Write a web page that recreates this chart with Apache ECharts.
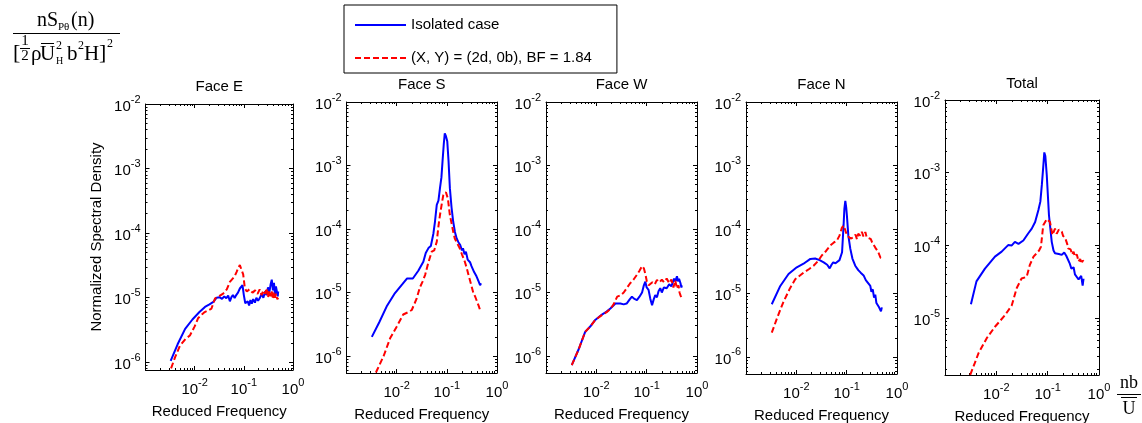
<!DOCTYPE html>
<html>
<head>
    <meta charset="utf-8" />
    <style>
        html, body { margin: 0; padding: 0; background-color: #fff; }
        #chart { width: 1142px; height: 423px; }
    </style>
    <script src="https://cdn.jsdelivr.net/npm/echarts@6.0.0/dist/echarts.min.js"></script>
</head>
<body>
    <div id="chart"></div>
    <script type="text/javascript">
        // series names (legend)
        var nameIso = 'Isolated case';
        var nameBf = '(X, Y) = (2d, 0b), BF = 1.84';
        var panelTitles = ['Face E', 'Face S', 'Face W', 'Face N', 'Total'];

        // [reduced frequency, normalized spectral density]
        var faceE_iso = [[0.00325,1.05e-6],[0.0045,1.9e-6],[0.0064,3.3e-6],[0.009,4.6e-6],[0.0125,6.0e-6],[0.0162,7.2e-6],[0.02,7.9e-6],[0.024,8.6e-6],[0.028,1.0e-5],[0.032,1.02e-5],[0.036,9.6e-6],[0.04,1.05e-5],[0.044,9.8e-6],[0.048,1.08e-5],[0.052,8.8e-6],[0.056,1.02e-5],[0.06,1.1e-5],[0.065,9.9e-6],[0.07,1.1e-5],[0.076,1.2e-5],[0.083,1.39e-5],[0.094,1.56e-5],[0.1,1.1e-5],[0.107,8.2e-6],[0.114,7.7e-6],[0.12,8.8e-6],[0.128,7.6e-6],[0.136,9.2e-6],[0.145,8.1e-6],[0.155,9.5e-6],[0.168,8.4e-6],[0.18,1.0e-5],[0.195,9.0e-6],[0.21,9.8e-6],[0.23,1.15e-5],[0.25,1.0e-5],[0.27,1.25e-5],[0.29,1.1e-5],[0.31,1.45e-5],[0.33,1.2e-5],[0.35,1.6e-5],[0.37,1.9e-5],[0.39,1.3e-5],[0.41,1.7e-5],[0.43,1.1e-5],[0.45,1.5e-5],[0.47,1.4e-5],[0.49,1.05e-5],[0.5,1.25e-5]];
        var faceE_bf = [[0.0028,6.0e-7],[0.0032,7.5e-7],[0.004,1.2e-6],[0.005,1.8e-6],[0.0065,2.3e-6],[0.008,2.6e-6],[0.01,3.6e-6],[0.0117,4.8e-6],[0.014,5.5e-6],[0.016,6.0e-6],[0.019,6.4e-6],[0.022,6.8e-6],[0.026,9.8e-6],[0.031,1.05e-5],[0.038,1.16e-5],[0.045,1.35e-5],[0.052,1.76e-5],[0.06,2.0e-5],[0.066,2.2e-5],[0.071,2.5e-5],[0.077,2.9e-5],[0.083,3.2e-5],[0.09,3.2e-5],[0.097,2.3e-5],[0.105,1.4e-5],[0.115,1.25e-5],[0.13,1.35e-5],[0.15,1.2e-5],[0.17,1.3e-5],[0.19,1.15e-5],[0.21,1.35e-5],[0.23,1.1e-5],[0.25,1.3e-5],[0.27,1.15e-5],[0.29,1.4e-5],[0.31,1.0e-5],[0.33,1.3e-5],[0.35,1.05e-5],[0.37,1.25e-5],[0.39,9.5e-6],[0.41,1.2e-5],[0.43,1.0e-5],[0.45,1.15e-5],[0.48,9.5e-6],[0.5,1.0e-5]];

        var faceS_iso = [[0.0032,2.0e-6],[0.0045,3.4e-6],[0.0063,6.0e-6],[0.009,9.5e-6],[0.013,1.35e-5],[0.016,1.66e-5],[0.021,1.66e-5],[0.027,2.2e-5],[0.034,3.05e-5],[0.038,4.2e-5],[0.043,5.0e-5],[0.048,5.4e-5],[0.054,8.5e-5],[0.058,1.3e-4],[0.063,2.4e-4],[0.068,2.8e-4],[0.073,4.4e-4],[0.078,6.5e-4],[0.082,1.15e-3],[0.087,2.2e-3],[0.091,3.2e-3],[0.096,2.9e-3],[0.102,2.4e-3],[0.108,1.2e-3],[0.115,4.4e-4],[0.124,2.2e-4],[0.134,1.3e-4],[0.145,9.0e-5],[0.157,7.1e-5],[0.17,6.2e-5],[0.185,5.6e-5],[0.2,4.6e-5],[0.21,5.0e-5],[0.225,4.0e-5],[0.24,4.4e-5],[0.26,3.3e-5],[0.28,3.4e-5],[0.29,3.0e-5],[0.31,2.6e-5],[0.33,2.7e-5],[0.35,2.1e-5],[0.37,2.2e-5],[0.39,1.8e-5],[0.41,1.9e-5],[0.43,1.5e-5],[0.45,1.6e-5],[0.46,1.3e-5],[0.48,1.4e-5]];
        var faceS_bf = [[0.0035,4.0e-7],[0.0039,5.6e-7],[0.0055,1.0e-6],[0.0074,1.9e-6],[0.01,2.9e-6],[0.0135,4.5e-6],[0.017,4.9e-6],[0.02,5.3e-6],[0.025,8.0e-6],[0.029,1.2e-5],[0.033,1.5e-5],[0.037,1.9e-5],[0.043,3.0e-5],[0.05,4.4e-5],[0.056,4.6e-5],[0.063,6.3e-5],[0.068,1.1e-4],[0.073,1.66e-4],[0.08,2.6e-4],[0.085,3.4e-4],[0.096,3.8e-4],[0.105,3.0e-4],[0.115,1.66e-4],[0.125,1.2e-4],[0.135,8.8e-5],[0.144,7.1e-5],[0.16,6.0e-5],[0.18,5.0e-5],[0.2,4.0e-5],[0.23,3.0e-5],[0.25,2.4e-5],[0.27,1.9e-5],[0.3,1.4e-5],[0.336,1.0e-5],[0.37,8.5e-6],[0.4,7.2e-6],[0.43,6.2e-6],[0.46,5.3e-6],[0.48,5.0e-6]];

        var faceW_iso = [[0.00325,7.2e-7],[0.0045,1.3e-6],[0.006,2.4e-6],[0.0078,3.0e-6],[0.0095,3.7e-6],[0.0129,4.5e-6],[0.016,5.0e-6],[0.019,5.6e-6],[0.024,6.7e-6],[0.03,6.7e-6],[0.035,6.5e-6],[0.04,6.7e-6],[0.046,7.8e-6],[0.051,8.6e-6],[0.056,8.0e-6],[0.064,7.6e-6],[0.072,8.6e-6],[0.081,1.0e-5],[0.088,1.3e-5],[0.094,1.48e-5],[0.1,1.2e-5],[0.109,1.1e-5],[0.118,8.0e-6],[0.128,6.3e-6],[0.138,7.8e-6],[0.148,9.1e-6],[0.16,8.4e-6],[0.172,1.05e-5],[0.186,1.17e-5],[0.2,1.0e-5],[0.22,1.2e-5],[0.25,1.17e-5],[0.28,1.35e-5],[0.31,1.25e-5],[0.35,1.66e-5],[0.37,1.5e-5],[0.4,1.8e-5],[0.42,1.5e-5],[0.44,1.65e-5],[0.47,1.4e-5],[0.49,1.2e-5],[0.5,1.3e-5]];
        var faceW_bf = [[0.00325,7.2e-7],[0.0045,1.3e-6],[0.006,2.4e-6],[0.0078,3.0e-6],[0.0095,3.7e-6],[0.0129,4.4e-6],[0.016,4.9e-6],[0.019,5.5e-6],[0.022,6.5e-6],[0.026,8.6e-6],[0.03,9.0e-6],[0.035,1.0e-5],[0.041,1.2e-5],[0.047,1.4e-5],[0.055,1.6e-5],[0.064,1.9e-5],[0.072,2.2e-5],[0.081,2.6e-5],[0.088,2.4e-5],[0.095,1.9e-5],[0.101,1.48e-5],[0.11,1.3e-5],[0.118,1.23e-5],[0.13,1.45e-5],[0.145,1.35e-5],[0.16,1.58e-5],[0.18,1.45e-5],[0.2,1.6e-5],[0.22,1.45e-5],[0.25,1.66e-5],[0.28,1.4e-5],[0.31,1.6e-5],[0.34,1.2e-5],[0.37,1.55e-5],[0.4,1.15e-5],[0.43,1.3e-5],[0.45,1.0e-5],[0.47,9.0e-6],[0.49,8.5e-6]];

        var faceN_iso = [[0.00325,6.7e-6],[0.0048,1.3e-5],[0.007,2.0e-5],[0.0102,2.55e-5],[0.0139,2.9e-5],[0.019,3.45e-5],[0.0237,3.5e-5],[0.029,3.3e-5],[0.035,3.05e-5],[0.041,2.8e-5],[0.046,2.45e-5],[0.05,2.8e-5],[0.054,3.05e-5],[0.06,2.95e-5],[0.064,2.9e-5],[0.072,3.3e-5],[0.081,4.4e-5],[0.087,1.2e-4],[0.09,2.1e-4],[0.094,2.8e-4],[0.098,2.2e-4],[0.101,1.66e-4],[0.108,8.0e-5],[0.118,5.0e-5],[0.13,3.5e-5],[0.148,2.7e-5],[0.17,2.3e-5],[0.19,2.1e-5],[0.217,1.9e-5],[0.24,1.6e-5],[0.26,1.5e-5],[0.295,1.3e-5],[0.31,1.05e-5],[0.33,1.15e-5],[0.35,8.5e-6],[0.37,9.5e-6],[0.39,7.0e-6],[0.42,7.5e-6],[0.44,6.0e-6],[0.47,6.3e-6],[0.48,5.2e-6],[0.5,6.0e-6]];
        var faceN_bf = [[0.00325,2.4e-6],[0.0042,4.2e-6],[0.0055,7.2e-6],[0.0075,1.2e-5],[0.0095,1.66e-5],[0.0139,2.1e-5],[0.018,2.4e-5],[0.022,2.7e-5],[0.027,3.2e-5],[0.032,3.9e-5],[0.039,4.6e-5],[0.047,5.6e-5],[0.055,6.2e-5],[0.064,6.7e-5],[0.072,8.0e-5],[0.08,1.05e-4],[0.086,1.15e-4],[0.093,1.0e-4],[0.101,8.1e-5],[0.11,8.5e-5],[0.12,7.2e-5],[0.138,7.6e-5],[0.15,8.3e-5],[0.16,7.0e-5],[0.17,8.6e-5],[0.186,8.0e-5],[0.2,9.2e-5],[0.215,7.8e-5],[0.235,9.1e-5],[0.25,7.5e-5],[0.27,8.0e-5],[0.3,7.1e-5],[0.32,6.3e-5],[0.34,6.6e-5],[0.37,5.2e-5],[0.39,5.5e-5],[0.42,4.5e-5],[0.44,4.2e-5],[0.47,3.6e-5],[0.5,3.5e-5]];

        var total_iso = [[0.0032,1.55e-5],[0.0041,3.2e-5],[0.006,4.8e-5],[0.0094,7.0e-5],[0.0127,8.2e-5],[0.017,1.01e-4],[0.02,1.0e-4],[0.023,1.12e-4],[0.027,1.05e-4],[0.0336,1.17e-4],[0.042,1.47e-4],[0.049,1.7e-4],[0.057,2.1e-4],[0.066,3.07e-4],[0.072,4.0e-4],[0.077,6.8e-4],[0.082,1.2e-3],[0.086,1.9e-3],[0.09,1.7e-3],[0.096,9.3e-4],[0.106,2.6e-4],[0.12,1.12e-4],[0.13,8.5e-5],[0.139,7.8e-5],[0.15,8.2e-5],[0.165,7.6e-5],[0.188,7.4e-5],[0.21,8.0e-5],[0.23,7.2e-5],[0.25,7.0e-5],[0.27,5.6e-5],[0.29,4.8e-5],[0.32,5.0e-5],[0.34,4.0e-5],[0.37,3.9e-5],[0.4,3.4e-5],[0.43,3.2e-5],[0.45,3.8e-5],[0.48,2.8e-5],[0.5,3.5e-5]];
        var total_bf = [[0.0031,1.66e-6],[0.0038,2.4e-6],[0.0045,3.3e-6],[0.0065,5.3e-6],[0.0094,7.6e-6],[0.0148,1.1e-5],[0.02,1.5e-5],[0.025,2.6e-5],[0.031,3.5e-5],[0.039,3.7e-5],[0.045,5.4e-5],[0.053,7.0e-5],[0.061,7.8e-5],[0.068,8.5e-5],[0.074,9.6e-5],[0.082,1.9e-4],[0.096,2.3e-4],[0.111,2.1e-4],[0.124,1.39e-4],[0.139,1.7e-4],[0.15,1.45e-4],[0.165,1.65e-4],[0.188,1.55e-4],[0.2,1.35e-4],[0.22,1.26e-4],[0.24,1.05e-4],[0.25,9.1e-5],[0.28,8.8e-5],[0.3,7.5e-5],[0.32,8.2e-5],[0.34,7.0e-5],[0.37,7.5e-5],[0.4,6.0e-5],[0.43,6.5e-5],[0.46,5.6e-5],[0.48,6.2e-5],[0.5,6.0e-5]];

        // axis ranges per panel (y min differs, x is 1e-3 .. 1e0)
        var xMin = 1e-3, xMax = 1;
        var yMins = [7.6e-7, 5.4e-7, 5.4e-7, 5.4e-7, 1.65e-6];
        var yMax = 1e-2;

        var isoData = [faceE_iso, faceS_iso, faceW_iso, faceN_iso, total_iso];
        var bfData = [faceE_bf, faceS_bf, faceW_bf, faceN_bf, total_bf];

        // layout (px)
        var grids = [
            { left: 145.5, top: 104, width: 147.5, height: 266, titleY: 79 },
            { left: 346.5, top: 102, width: 150.5, height: 271, titleY: 77 },
            { left: 546, top: 102, width: 151, height: 271, titleY: 77 },
            { left: 746, top: 102, width: 151, height: 272, titleY: 77 },
            { left: 945, top: 100, width: 154, height: 275, titleY: 76 }
        ];

        var sans = '"Liberation Sans", Arial, sans-serif';
        var serif = '"Liberation Serif", "Times New Roman", serif';

        // "10" sits low, exponent sits high (both tokens are 20px tall)
        var rich = {
            b: { fontFamily: sans, fontSize: 15, color: '#000', lineHeight: 15, padding: [5, 0, 0, 0] },
            s: { fontFamily: sans, fontSize: 11, color: '#000', lineHeight: 11, padding: [0, 0, 9, 0] }
        };

        function powLabel(v, hideExp) {
            var e = Math.log10(v);
            var r = Math.round(e);
            if (Math.abs(e - r) > 1e-6 || r === hideExp) return '';
            return '{b|10}{s|' + r + '}';
        }

        // minor ticks 2..9 x 10^k of a log axis
        function minorTicks(lo, hi) {
            var out = [];
            for (var k = lo; k < hi; k++) {
                for (var m = 2; m <= 9; m++) out.push(+(m * Math.pow(10, k)).toPrecision(3));
            }
            return out;
        }
        var xMinor = minorTicks(-3, 0);
        var yMinor = minorTicks(-7, -2);

        var tickStyle = { color: '#000', width: 1 };

        function makeAxes(i, isX) {
            var base = {
                type: 'log', logBase: 10, gridIndex: i,
                min: isX ? xMin : yMins[i], max: isX ? xMax : yMax,
                splitLine: { show: false },
                axisLine: { show: true, lineStyle: { color: '#000', width: 1 } },
                axisTick: { show: true, inside: true, length: 4, lineStyle: tickStyle },
                axisLabel: { show: false }
            };
            var sideA = isX ? 'bottom' : 'left', sideB = isX ? 'top' : 'right';
            var main = Object.assign({}, base, {
                position: sideA,
                axisLabel: {
                    show: true, margin: isX ? 10 : 5, rich: rich,
                    formatter: function (v) { return powLabel(v, isX ? -3 : null); }
                }
            });
            if (isX) {
                main.name = 'Reduced Frequency';
                main.nameLocation = 'middle';
                main.nameGap = 34;
                main.nameTextStyle = { fontFamily: sans, fontSize: 15, color: '#000' };
            } else if (i === 0) {
                main.name = 'Normalized Spectral Density';
                main.nameLocation = 'middle';
                main.nameGap = 41;
                main.nameTextStyle = { fontFamily: sans, fontSize: 15, color: '#000' };
            }
            var other = Object.assign({}, base, { position: sideB });
            var minorA = Object.assign({}, base, {
                position: sideA, axisLine: { show: false },
                axisTick: { show: true, inside: true, length: 2, lineStyle: tickStyle, customValues: isX ? xMinor : yMinor }
            });
            var minorB = Object.assign({}, minorA, { position: sideB });
            return [main, other, minorA, minorB];
        }

        var gridOpt = [], xAxes = [], yAxes = [], titles = [], series = [];
        for (var i = 0; i < 5; i++) {
            var g = grids[i];
            gridOpt.push({ left: g.left, top: g.top, width: g.width, height: g.height, containLabel: false, outerBoundsMode: 'none' });
            xAxes = xAxes.concat(makeAxes(i, true));
            yAxes = yAxes.concat(makeAxes(i, false));
            titles.push({
                text: panelTitles[i], left: g.left + g.width / 2, top: g.titleY, textAlign: 'center', padding: 0,
                textStyle: { fontFamily: sans, fontSize: 15, fontWeight: 'normal', color: '#000' }
            });
            series.push({
                name: nameIso, type: 'line', xAxisIndex: 4 * i, yAxisIndex: 4 * i, data: isoData[i],
                symbol: 'none', z: 3,
                lineStyle: { color: '#0000ff', width: 2 }, itemStyle: { color: '#0000ff' }
            });
            series.push({
                name: nameBf, type: 'line', xAxisIndex: 4 * i, yAxisIndex: 4 * i, data: bfData[i],
                symbol: 'none', z: 4,
                lineStyle: { color: '#ff0000', width: 2, type: [6, 3] }, itemStyle: { color: '#ff0000' }
            });
        }

        // the formula labels (left top and right bottom)
        function txt(x, y, s, size, align) {
            return {
                type: 'text', x: x, y: y, silent: true,
                style: { text: s, font: size + 'px ' + serif, fill: '#000', align: align || 'left', verticalAlign: 'middle' }
            };
        }
        function hline(x1, x2, y) {
            return { type: 'line', silent: true, shape: { x1: x1, y1: y, x2: x2, y2: y }, style: { stroke: '#000', lineWidth: 1 } };
        }
        var graphics = [
            txt(37, 21, 'nS', 20), txt(58, 27, 'P\u03b8', 11), txt(71, 21, '(n)', 20),
            hline(13, 120, 33.5),
            txt(13, 53, '[', 22),
            txt(25, 41, '1', 15, 'center'), hline(20, 30, 48.5), txt(25, 56, '2', 15, 'center'),
            txt(31, 54, '\u03c1', 21),
            txt(40, 54, 'U', 21), hline(41, 54, 43.5),
            txt(56, 46, '2', 12), txt(56, 61, 'H', 10),
            txt(67, 54, 'b', 21), txt(78, 46, '2', 12),
            txt(84, 54, 'H', 21), txt(99, 53, ']', 22), txt(107, 44, '2', 12),
            txt(1129, 383, 'nb', 18, 'center'),
            hline(1117, 1141, 394.5), hline(1121, 1137, 397.5),
            txt(1129, 409, 'U', 18, 'center')
        ];

        var option = {
            animation: false,
            backgroundColor: '#fff',
            title: titles,
            legend: {
                orient: 'vertical', left: 344, top: 5,
                padding: [12, 25, 7, 10], itemGap: 17, itemWidth: 51, itemHeight: 14,
                borderColor: '#000', borderWidth: 1, borderRadius: 0, backgroundColor: '#fff',
                itemStyle: { opacity: 0 },
                textStyle: { fontFamily: sans, fontSize: 15, color: '#000', lineHeight: 16 },
                data: [nameIso, nameBf]
            },
            grid: gridOpt,
            xAxis: xAxes,
            yAxis: yAxes,
            graphic: graphics,
            series: series
        };

        var chart = echarts.init(document.getElementById('chart'));
        chart.setOption(option);
    </script>
</body>
</html>
